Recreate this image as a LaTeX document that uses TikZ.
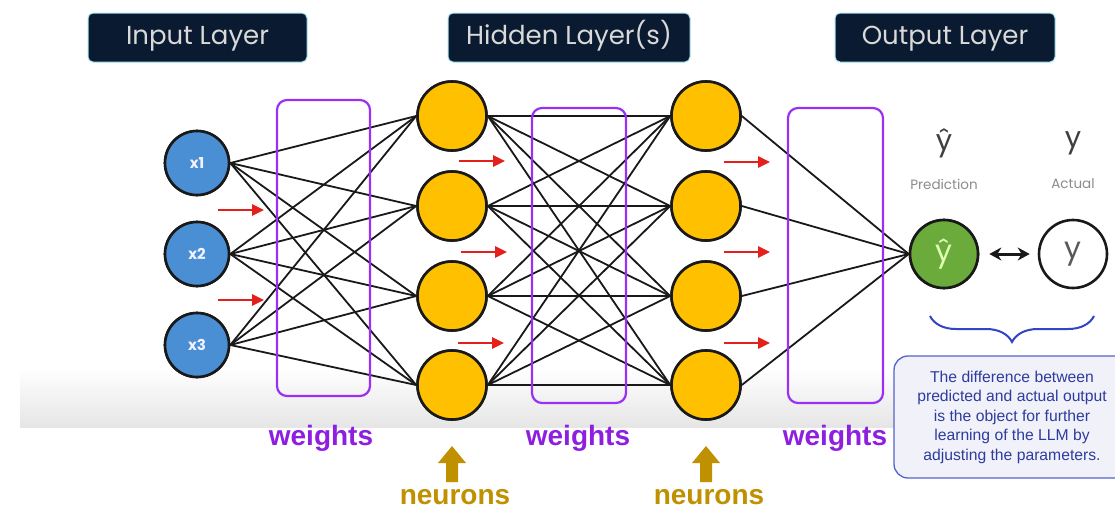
\documentclass[tikz,border=0pt]{standalone}
\usepackage{fontspec}
\setmainfont{Liberation Sans}
\newfontfamily\geo{Poppins}
\usetikzlibrary{arrows.meta,decorations.pathreplacing}

\definecolor{navy}{HTML}{0A1A30}
\definecolor{glow}{HTML}{A8E4F0}
\definecolor{inblue}{HTML}{4A8FD4}
\definecolor{gold}{HTML}{FFC000}
\definecolor{wpurple}{HTML}{8E1FE0}
\definecolor{boxpurple}{HTML}{9B30F5}
\definecolor{arrowred}{HTML}{E3201B}
\definecolor{ngold}{HTML}{BF9000}
\definecolor{predgreen}{HTML}{6AAB3C}
\definecolor{notebg}{HTML}{F1F1F9}
\definecolor{noteline}{HTML}{5563C9}
\definecolor{notetext}{HTML}{2D3C9E}
\definecolor{bracecol}{HTML}{3344C4}

\begin{document}
\begin{tikzpicture}[x=1pt,y=-1pt,
  layerbox/.style={fill=navy, draw=glow, line width=1pt, rounded corners=5pt,
    minimum height=49pt, inner sep=0pt, text=white!85!black,
    text height=19pt, text depth=5pt,
    font=\geo\fontsize{26}{30}\selectfont},
  inode/.style={circle, fill=inblue, draw=black!90, line width=2.6pt,
    minimum size=64pt, inner sep=0pt, text=white!95!blue,
    font=\geo\bfseries\fontsize{15}{17}\selectfont},
  hnode/.style={circle, fill=gold, draw=black!90, line width=2.6pt,
    minimum size=69pt, inner sep=0pt},
  onode/.style={circle, draw=black!90, line width=2.6pt,
    minimum size=68pt, inner sep=0pt, font=\geo\fontsize{30}{34}\selectfont},
  wbox/.style={draw=boxpurple, line width=2.2pt, rounded corners=10pt, inner sep=0pt},
  wlabel/.style={text=wpurple, font=\bfseries\fontsize{28}{30}\selectfont},
  nlabel/.style={text=ngold, font=\bfseries\fontsize{28}{30}\selectfont},
  edge/.style={line width=1.8pt, black!90},
  flow/.style={arrowred, line width=2.6pt, -{Triangle[length=12pt,width=11pt]}},
  toplabel/.style={text=black!75, font=\geo\fontsize{29}{32}\selectfont},
  sublabel/.style={text=black!45, font=\geo\fontsize{13.5}{15}\selectfont},
]
\useasboundingbox (0,0) rectangle (1115,509);
\clip (0,0) rectangle (1115,509);
\fill[white] (0,0) rectangle (1115,509);

% soft grey floor band
\shade[top color=white, bottom color=black!10] (20,368) rectangle (1115,427);

% layer titles
\node[layerbox, minimum width=219pt] (tin)  at (197.5,37.5) {Input Layer};
\node[layerbox, minimum width=242pt] (thid) at (569,37.5)   {Hidden Layer(s)};
\node[layerbox, minimum width=220pt] (tout) at (945,37.5)   {Output Layer};

% neurons
\node[inode] (x1) at (197,163) {x1};
\node[inode] (x2) at (197,254) {x2};
\node[inode] (x3) at (197,345) {x3};
\foreach \j/\y in {1/116,2/206,3/296,4/385} {
  \node[hnode] (a\j) at (452,\y) {};
  \node[hnode] (b\j) at (706,\y) {};
}
\node[onode, fill=predgreen, text=green!20!lime!30!white] (pred) at (944,254) {ŷ};
\node[onode, fill=white, text=black!65] (act) at (1073,254) {y};

% connections
\foreach \i in {1,2,3} \foreach \j in {1,...,4}
  \draw[edge] (x\i.east) -- (a\j.west);
\foreach \i in {1,...,4} \foreach \j in {1,...,4}
  \draw[edge] (a\i.east) -- (b\j.west);
\foreach \i in {1,...,4}
  \draw[edge] (b\i.east) -- (pred.west);

% redraw neurons above the connections
\node[inode] at (x1) {x1};
\node[inode] at (x2) {x2};
\node[inode] at (x3) {x3};
\foreach \j in {1,...,4} {
  \node[hnode] at (a\j) {};
  \node[hnode] at (b\j) {};
}
\node[onode, fill=predgreen, text=green!20!lime!30!white] at (pred) {ŷ};

% weight groups
\node[wbox, minimum width=93pt, minimum height=296pt] (w1) at (323.5,248) {};
\node[wbox, minimum width=94pt, minimum height=295pt] (w2) at (579,255.5) {};
\node[wbox, minimum width=95pt, minimum height=295pt] (w3) at (835.5,255.5) {};
\node[wlabel] (lw1) at (321,438) {weights};
\node[wlabel] (lw2) at (578,438) {weights};
\node[wlabel] (lw3) at (835,438) {weights};

% forward flow arrows
\foreach \n/\x/\y in {1/218/210, 2/218/300,
                      3/459/161, 4/461/252, 5/458/343,
                      6/724/162, 7/724/252, 8/724/343} {
  \coordinate (f\n s) at (\x,\y);
  \coordinate (f\n e) at (\x+46,\y);
  \draw[flow] (f\n s) -- (f\n e);
}

% prediction vs actual
\node[toplabel] (yhat) at (944,143) {ŷ};
\node[toplabel] (yact) at (1073,143) {y};
\node[sublabel] (lpred) at (944,184) {Prediction};
\node[sublabel] (lact) at (1073,184) {Actual};
\draw[black!90, line width=3pt, {Stealth[length=12pt,width=13pt]}-{Stealth[length=12pt,width=13pt]},
      shorten <=10pt, shorten >=8pt] (pred) -- (act);

% neuron pointers
\foreach \k/\x in {1/452, 2/706} {
  \node[nlabel] (ln\k) at (\x+3,497) {neurons};
  \fill[ngold] (\x,446) -- (\x+14,463) -- (\x+6,463) -- (\x+6,482)
               -- (\x-6,482) -- (\x-6,463) -- (\x-14,463) -- cycle;
}

% error note
\draw[bracecol, line width=2pt,
      decorate, decoration={brace, amplitude=26pt, aspect=0.5}]
      (1094,316) -- (930,316);
\node[draw=noteline, fill=notebg, line width=1.3pt, rounded corners=14pt,
      minimum width=236pt, minimum height=122pt, inner sep=0pt,
      align=center, text=notetext, font=\fontsize{15.7}{19.5}\selectfont]
      (note) at (1012,417)
      {The difference between\\predicted and actual output\\is the object for further\\learning of the LLM by\\adjusting the parameters.};
\end{tikzpicture}
\end{document}
